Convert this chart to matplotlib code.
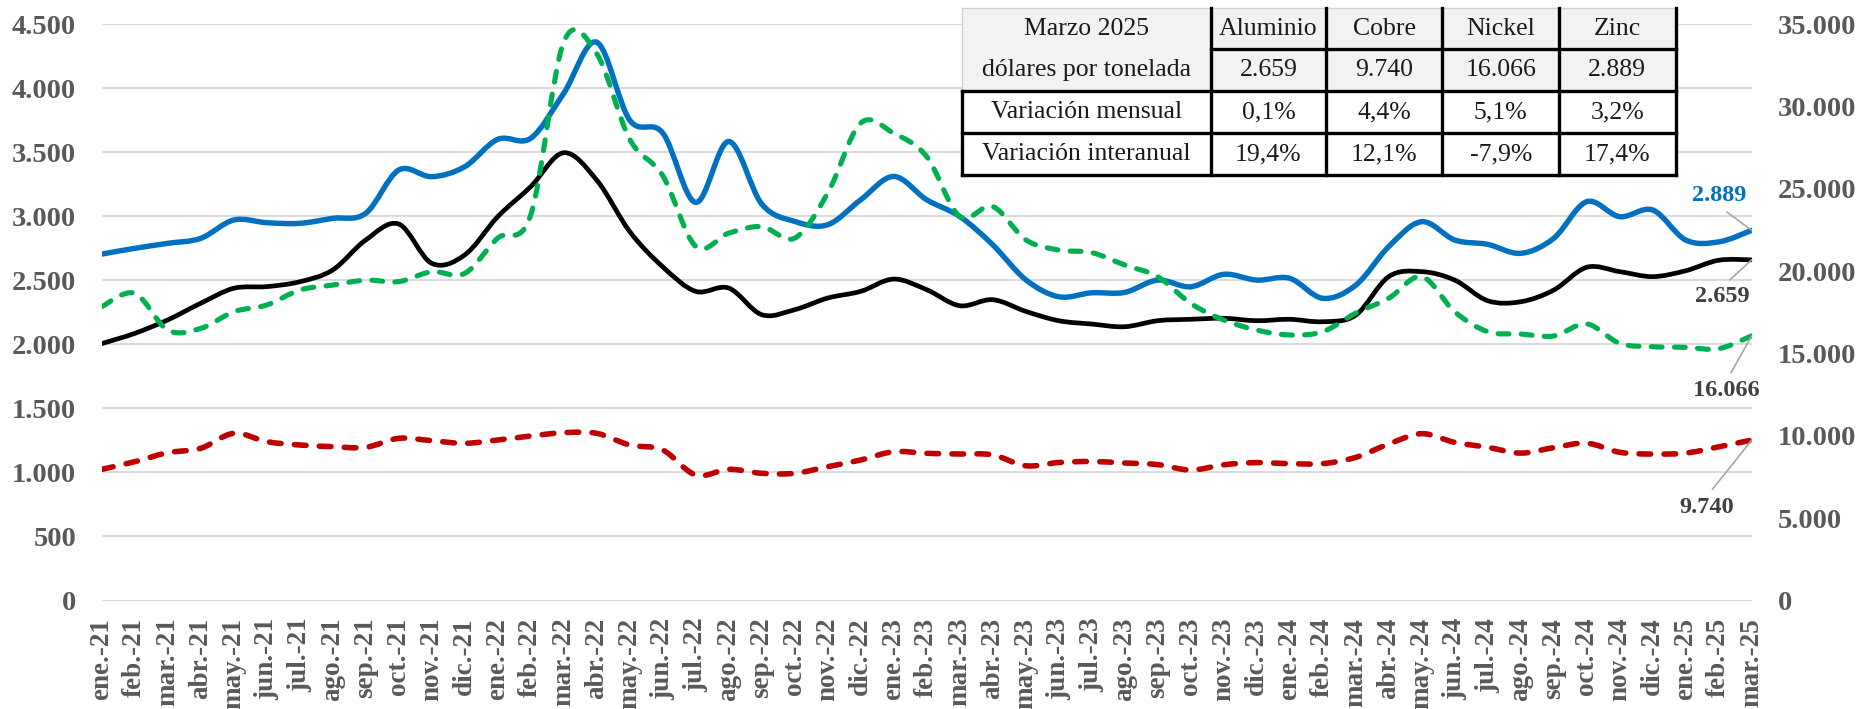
import numpy as np
import matplotlib
matplotlib.use("Agg")
import matplotlib.pyplot as plt
from matplotlib.path import Path
from matplotlib.patches import PathPatch, Rectangle
from matplotlib.lines import Line2D
from matplotlib.ticker import FuncFormatter, MultipleLocator

plt.rcParams['font.family'] = ['Liberation Serif', 'DejaVu Serif']

# ---------------- data ----------------
meses = ['ene.-21', 'feb.-21', 'mar.-21', 'abr.-21', 'may.-21', 'jun.-21', 'jul.-21', 'ago.-21',
         'sep.-21', 'oct.-21', 'nov.-21', 'dic.-21',
         'ene.-22', 'feb.-22', 'mar.-22', 'abr.-22', 'may.-22', 'jun.-22', 'jul.-22', 'ago.-22',
         'sep.-22', 'oct.-22', 'nov.-22', 'dic.-22',
         'ene.-23', 'feb.-23', 'mar.-23', 'abr.-23', 'may.-23', 'jun.-23', 'jul.-23', 'ago.-23',
         'sep.-23', 'oct.-23', 'nov.-23', 'dic.-23',
         'ene.-24', 'feb.-24', 'mar.-24', 'abr.-24', 'may.-24', 'jun.-24', 'jul.-24', 'ago.-24',
         'sep.-24', 'oct.-24', 'nov.-24', 'dic.-24',
         'ene.-25', 'feb.-25', 'mar.-25']

# left axis (US$/t)
aluminio = [2005, 2085, 2190, 2320, 2437, 2450, 2488, 2580, 2814, 2939, 2632, 2697,
            2996, 3230, 3495, 3282, 2880, 2605, 2413, 2439, 2231, 2270, 2361, 2413,
            2509, 2426, 2301, 2348, 2257, 2184, 2158, 2137, 2184, 2195, 2203, 2184,
            2195, 2176, 2227, 2528, 2567, 2501, 2340, 2332, 2423, 2601, 2567, 2528,
            2574, 2656, 2659]
zinc = [2704, 2749, 2788, 2827, 2970, 2949, 2944, 2983, 3022, 3360, 3308, 3386,
        3600, 3608, 3959, 4358, 3750, 3650, 3107, 3583, 3095, 2959, 2933, 3128,
        3310, 3128, 2998, 2777, 2504, 2371, 2402, 2405, 2501, 2449, 2546, 2501,
        2515, 2359, 2461, 2762, 2957, 2814, 2780, 2710, 2827, 3113, 2996, 3048,
        2814, 2799, 2889]
# right axis (US$/t)
cobre = [7965, 8427, 8973, 9240, 10149, 9644, 9441, 9340, 9300, 9846, 9704, 9543,
         9744, 9987, 10189, 10149, 9441, 9137, 7619, 7965, 7722, 7722, 8124, 8530,
         9035, 8934, 8894, 8840, 8180, 8380, 8440, 8350, 8250, 7920, 8240, 8370,
         8310, 8310, 8689, 9500, 10130, 9600, 9300, 8950, 9280, 9550, 9000, 8890,
         8950, 9329, 9740]
niquel = [17840, 18650, 16420, 16520, 17530, 17940, 18850, 19150, 19450, 19360, 19960, 19860,
          22000, 23400, 33900, 33200, 28000, 25800, 21500, 22300, 22700, 22000, 24730, 28980,
          28370, 26950, 23310, 23920, 21900, 21280, 21120, 20370, 19660, 18040, 17030, 16420,
          16120, 16320, 17444, 18350, 19660, 17530, 16320, 16180, 16060, 16790, 15610, 15410,
          15370, 15287, 16066]

tabla_cols = ['Aluminio', 'Cobre', 'Nickel', 'Zinc']
tabla_filas = [['Marzo 2025', '', '', '', ''],
               ['dólares por tonelada', '2.659', '9.740', '16.066', '2.889'],
               ['Variación mensual', '0,1%', '4,4%', '5,1%', '3,2%'],
               ['Variación interanual', '19,4%', '12,1%', '-7,9%', '17,4%']]

etiquetas = [('2.889', zinc[-1], 'left', '#0070C0', (-33, 35), (0.5, 0.0)),
             ('2.659', aluminio[-1], 'left', '#404040', (-29, -37), (0.5, 1.0)),
             ('16.066', niquel[-1], 'right', '#404040', (-25, -55), (0.5, 1.0)),
             ('9.740', cobre[-1], 'right', '#404040', (-45, -67), (0.5, 1.0))]

# ---------------- figure ----------------
W, H = 1864, 709
fig = plt.figure(figsize=(W / 100, H / 100), dpi=100)
fig.patch.set_facecolor('white')
x0, x1 = 101.7, 1751.7
y0, y1 = 24.0, 600.5
ax = fig.add_axes([x0 / W, 1 - y1 / H, (x1 - x0) / W, (y1 - y0) / H])
ax2 = ax.twinx()

x = np.arange(len(meses))


def smooth_path(xs, ys):
    pts = np.column_stack([xs, ys]).astype(float)
    n = len(pts)
    verts = [pts[0]]
    codes = [Path.MOVETO]
    for i in range(n - 1):
        p0 = pts[i - 1] if i > 0 else pts[i]
        p1 = pts[i]
        p2 = pts[i + 1]
        p3 = pts[i + 2] if i + 2 < n else pts[i + 1]
        c1 = p1 + (p2 - p0) / 6.0
        c2 = p2 - (p3 - p1) / 6.0
        verts += [c1, c2, p2]
        codes += [Path.CURVE4] * 3
    return Path(verts, codes)


def add_series(a, ys, color, lw, ls, z):
    p = PathPatch(smooth_path(x, ys), fill=False, edgecolor=color, lw=lw,
                  linestyle=ls, zorder=z)
    p.set_capstyle('round')
    p.set_joinstyle('round')
    a.add_patch(p)


dash = (0, (2.1, 2.4))
add_series(ax, zinc, '#0070C0', 3.9, '-', 3)
add_series(ax, aluminio, '#000000', 3.4, '-', 4)
add_series(ax2, cobre, '#C00000', 4.0, dash, 3)
add_series(ax2, niquel, '#00B050', 3.7, dash, 4)

ax.set_xlim(0, len(meses) - 1)
ax.set_ylim(0, 4500)
ax2.set_ylim(0, 35000)

fmt = FuncFormatter(lambda v, p: f"{int(round(v)):,}".replace(',', '.'))
ax.yaxis.set_major_locator(MultipleLocator(500))
ax2.yaxis.set_major_locator(MultipleLocator(5000))
ax.yaxis.set_major_formatter(fmt)
ax2.yaxis.set_major_formatter(fmt)
ax.grid(axis='y', color='#D9D9D9', lw=1.3)
ax.set_axisbelow(True)
ax.set_xticks(x)
ax.set_xticklabels(meses, rotation=90)

for a in (ax, ax2):
    for s in a.spines.values():
        s.set_visible(False)
ax.tick_params(axis='y', length=0, pad=18.5, labelsize=20.5, labelcolor='#595959')
ax2.tick_params(axis='y', length=0, pad=18.5, labelsize=20.5, labelcolor='#595959')
ax.tick_params(axis='x', length=0, pad=12.5, labelsize=19.5, labelcolor='#595959')
for lab in ax.get_yticklabels() + ax2.get_yticklabels() + ax.get_xticklabels():
    lab.set_fontweight('bold')

# end labels
for txt, val, side, col, off, rp in etiquetas:
    a = ax if side == 'left' else ax2
    a.annotate(txt, xy=(x[-1], val), xytext=off, textcoords='offset pixels',
               ha='center', va='center', fontsize=17.5, fontweight='bold', color=col,
               annotation_clip=False, zorder=10,
               arrowprops=dict(arrowstyle='-', color='#A6A6A6', lw=1.2, relpos=rp,
                               shrinkA=4, shrinkB=0))

# ---------------- table ----------------
cx = [961.7, 1211.0, 1325.9, 1442.4, 1559.0, 1675.5]
ry = [8.3, 49.3, 90.7, 133.3, 175.0]


def fx(px):
    return px / W


def fy(py):
    return 1 - py / H


fig.patches.append(Rectangle((fx(cx[0]), fy(ry[2])), fx(cx[-1]) - fx(cx[0]),
                             fy(ry[0]) - fy(ry[2]), transform=fig.transFigure,
                             facecolor='#F2F2F2', edgecolor='none', zorder=20))
fig.patches.append(Rectangle((fx(cx[0]), fy(ry[4])), fx(cx[-1]) - fx(cx[0]),
                             fy(ry[2]) - fy(ry[4]), transform=fig.transFigure,
                             facecolor='white', edgecolor='none', zorder=20))


def hline(y, xa, xb, color='black', lw=2.4):
    fig.lines.append(Line2D([fx(xa), fx(xb)], [fy(y), fy(y)], transform=fig.transFigure,
                            color=color, lw=lw, zorder=21, solid_capstyle='projecting'))


def vline(xp, ya, yb, color='black', lw=2.4):
    fig.lines.append(Line2D([fx(xp), fx(xp)], [fy(ya), fy(yb)], transform=fig.transFigure,
                            color=color, lw=lw, zorder=21, solid_capstyle='projecting'))


hline(ry[0], cx[0], cx[-1], color='#D0D0D0', lw=1.0)
vline(cx[0], ry[0], ry[2], color='#D0D0D0', lw=1.0)
hline(ry[1], cx[1], cx[-1])
for yy in ry[2:]:
    hline(yy, cx[0], cx[-1])
vline(cx[0], ry[2], ry[4])
for xx in cx[1:]:
    vline(xx, ry[0], ry[4])

tfs = 18.5
tcol = '#1A1A1A'
for j, name in enumerate(tabla_cols):
    fig.text(fx((cx[j + 1] + cx[j + 2]) / 2), fy((ry[0] + ry[1]) / 2), name,
             ha='center', va='center', fontsize=tfs, color=tcol, zorder=22)
for i, fila in enumerate(tabla_filas):
    for j, val in enumerate(fila):
        if val == '':
            continue
        fig.text(fx((cx[j] + cx[j + 1]) / 2), fy((ry[i] + ry[i + 1]) / 2), val,
                 ha='center', va='center', fontsize=tfs, color=tcol, zorder=22)

fig.savefig('out.png', dpi=100, facecolor='white')
